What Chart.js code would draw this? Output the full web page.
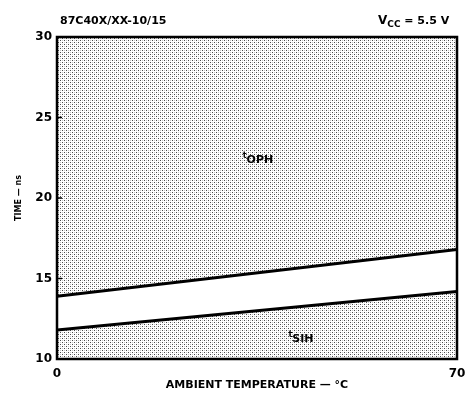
<!DOCTYPE html>
<html>
<head>
<meta charset="utf-8">
<script src="https://cdn.jsdelivr.net/npm/chart.js@4/dist/chart.umd.min.js"></script>
<style>
  html, body { margin: 0; padding: 0; background: #fff; }
  #wrap { width: 474px; height: 404px; }
</style>
</head>
<body>
<div id="wrap"><canvas id="timeChart" width="474" height="404"></canvas></div>
<script>
// values
var temps = [0, 70];          // ambient temperature, deg C
var tOPH = [13.9, 16.8];      // upper boundary, ns
var tSIH = [11.8, 14.2];      // lower boundary, ns
var xTicks = [0, 70];
var yTicks = [10, 15, 20, 25, 30];

var FONT = '"DejaVu Sans", Arial, sans-serif';

// stipple pattern like the printed halftone
function stipple() {
    var c = document.createElement('canvas');
    c.width = 4; c.height = 4;
    var g = c.getContext('2d');
    g.fillStyle = '#ffffff';
    g.fillRect(0, 0, 4, 4);
    g.fillStyle = '#4a4a4a';
    g.fillRect(0, 0, 1, 1);
    g.fillRect(2, 2, 1, 1);
    g.fillStyle = '#c4c4c4';
    g.fillRect(2, 0, 1, 1);
    g.fillRect(0, 2, 1, 1);
    return g.createPattern(c, 'repeat');
}
var pat = stipple();

function pts(ys) {
    return temps.map(function (t, i) { return { x: t, y: ys[i] }; });
}

// frame, captions and curve labels
var decor = {
    id: 'decor',
    afterDatasetsDraw: function (chart) {
        var ctx = chart.ctx, a = chart.chartArea;
        var xs = chart.scales.x, ys = chart.scales.y;
        ctx.save();
        ctx.strokeStyle = '#000';
        ctx.lineWidth = 2.5;
        ctx.strokeRect(a.left, a.top, a.right - a.left, a.bottom - a.top);

        // small inward ticks on the left axis
        ctx.lineWidth = 1.5;
        yTicks.forEach(function (v) {
            var y = ys.getPixelForValue(v);
            ctx.beginPath();
            ctx.moveTo(a.left, y);
            ctx.lineTo(a.left + 5, y);
            ctx.stroke();
        });

        ctx.fillStyle = '#000';
        ctx.textBaseline = 'alphabetic';

        ctx.font = 'bold 11px ' + FONT;
        ctx.textAlign = 'left';
        ctx.fillText('87C40X/XX-10/15', 60, 24);

        // V_CC = 5.5 V
        var x0 = 378, yb = 24;
        ctx.font = 'bold 12px ' + FONT;
        ctx.fillText('V', x0, yb);
        var w = ctx.measureText('V').width;
        ctx.font = 'bold 9px ' + FONT;
        ctx.fillText('CC', x0 + w, yb + 3);
        var w2 = ctx.measureText('CC').width;
        ctx.font = 'bold 11px ' + FONT;
        ctx.fillText(' = 5.5 V', x0 + w + w2, yb);

        function tlabel(sub, tx, ty) {
            var px = xs.getPixelForValue(tx), py = ys.getPixelForValue(ty);
            ctx.font = 'bold 8px ' + FONT;
            ctx.fillText('t', px, py - 3);
            var tw = ctx.measureText('t').width;
            ctx.font = 'bold 11px ' + FONT;
            ctx.fillText(sub, px + tw, py + 2);
        }
        tlabel('OPH', 32.5, 22.3);
        tlabel('SIH', 40.5, 11.2);
        ctx.restore();
    }
};

new Chart(document.getElementById('timeChart'), {
    type: 'line',
    data: {
        datasets: [{
            label: 'tOPH',
            data: pts(tOPH),
            borderColor: '#000',
            borderWidth: 3,
            pointRadius: 0,
            backgroundColor: pat,
            fill: 'end'
        }, {
            label: 'tSIH',
            data: pts(tSIH),
            borderColor: '#000',
            borderWidth: 3,
            pointRadius: 0,
            backgroundColor: pat,
            fill: 'start'
        }]
    },
    options: {
        responsive: false,
        animation: false,
        layout: { padding: { top: 37, right: 17, left: 0, bottom: 8 } },
        plugins: { legend: { display: false }, tooltip: { enabled: false } },
        scales: {
            x: {
                type: 'linear',
                min: 0, max: 70,
                afterBuildTicks: function (s) { s.ticks = xTicks.map(function (v) { return { value: v }; }); },
                afterFit: function (s) { s.height = 37; },
                grid: { display: false, drawTicks: false },
                border: { display: false },
                ticks: { color: '#000', padding: 8, maxRotation: 0, font: { family: FONT, size: 12, weight: 'bold' } },
                title: { display: true, text: 'AMBIENT TEMPERATURE — °C', color: '#000', padding: { top: 4 }, font: { family: FONT, size: 11, weight: 'bold' } }
            },
            y: {
                min: 10, max: 30,
                afterBuildTicks: function (s) { s.ticks = yTicks.map(function (v) { return { value: v }; }); },
                afterFit: function (s) { s.width = 57; },
                grid: { display: false, drawTicks: false },
                border: { display: false },
                ticks: { color: '#000', padding: 5, font: { family: FONT, size: 12, weight: 'bold' } },
                title: { display: true, text: 'TIME — ns', color: '#000', padding: { top: 14 }, font: { family: FONT, size: 8, weight: 'bold' } }
            }
        }
    },
    plugins: [decor]
});
</script>
</body>
</html>
